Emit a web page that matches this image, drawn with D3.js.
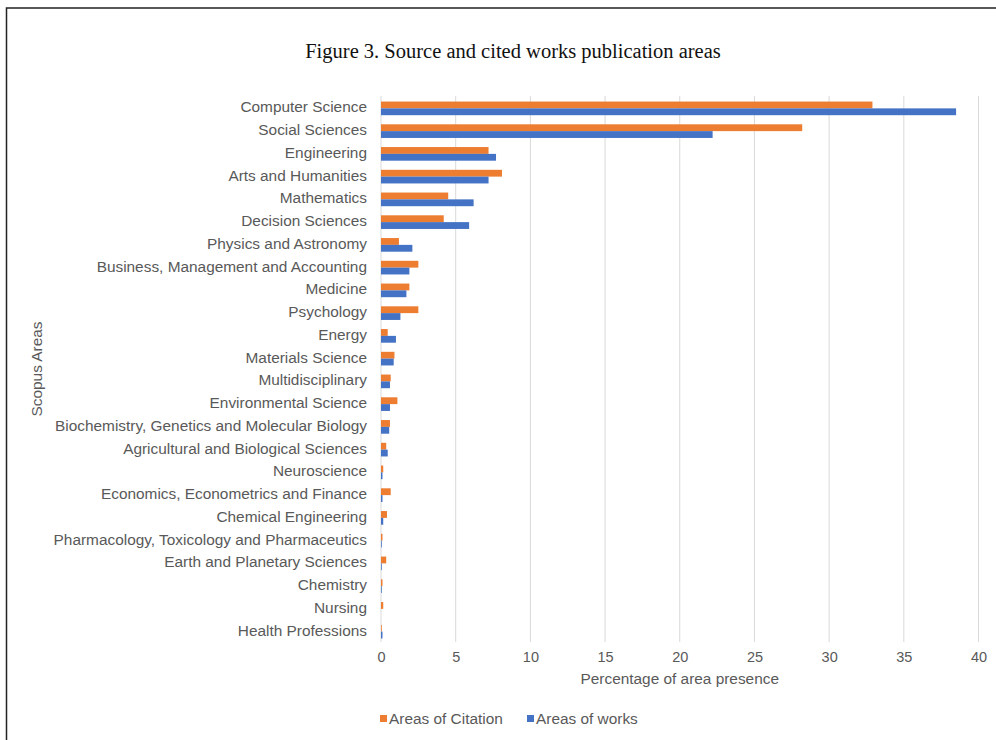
<!DOCTYPE html>
<html>
<head>
<meta charset="utf-8">
<script src="https://cdn.jsdelivr.net/npm/d3@7"></script>
<style>
  body { margin: 0; background: #fff; }
  svg { display: block; }
</style>
</head>
<body>
<div id="chart"></div>
<script>
const categories = [
  "Computer Science", "Social Sciences", "Engineering", "Arts and Humanities",
  "Mathematics", "Decision Sciences", "Physics and Astronomy",
  "Business, Management and Accounting", "Medicine", "Psychology", "Energy",
  "Materials Science", "Multidisciplinary", "Environmental Science",
  "Biochemistry, Genetics and Molecular Biology", "Agricultural and Biological Sciences",
  "Neuroscience", "Economics, Econometrics and Finance", "Chemical Engineering",
  "Pharmacology, Toxicology and Pharmaceutics", "Earth and Planetary Sciences",
  "Chemistry", "Nursing", "Health Professions"
];
const citation = [32.9, 28.2, 7.2, 8.1, 4.5, 4.2, 1.2, 2.5, 1.9, 2.5, 0.45, 0.9,
  0.65, 1.1, 0.6, 0.35, 0.15, 0.65, 0.4, 0.1, 0.35, 0.1, 0.15, 0.05];
const works = [38.5, 22.2, 7.7, 7.2, 6.2, 5.9, 2.1, 1.9, 1.7, 1.3, 1.0, 0.85,
  0.6, 0.6, 0.55, 0.45, 0.1, 0.1, 0.15, 0.05, 0.05, 0.05, 0.0, 0.1];
const seriesNames = ["Areas of Citation", "Areas of works"];
const xTicks = [0, 5, 10, 15, 20, 25, 30, 35, 40];

const width = 996, height = 740;
const margin = { top: 96, right: 18, bottom: 98, left: 381 };
const colors = { "Areas of Citation": "#ED7D31", "Areas of works": "#4472C4" };
const textColor = "#595959";
const sans = "Liberation Sans, Arial, sans-serif";

const rows = categories.map((c, i) => ({
  name: c,
  "Areas of Citation": citation[i],
  "Areas of works": works[i]
}));

const svg = d3.select("#chart").append("svg")
  .attr("width", width)
  .attr("height", height);

// frame
svg.append("path")
  .attr("d", `M6.5,${height}V8H${width}`)
  .attr("fill", "none")
  .attr("stroke", "#222")
  .attr("stroke-width", 1.5);

let x = d3.scaleLinear()
  .domain([0, 40])
  .range([margin.left, 978.5]);

let y = d3.scaleBand()
  .domain(categories)
  .range([margin.top, height - margin.bottom])
  .paddingInner(0.4)
  .paddingOuter(0.2);

let y1 = d3.scaleBand()
  .domain(seriesNames)
  .range([0, y.bandwidth()]);

// gridlines
svg.append("g")
  .attr("class", "grid")
  .selectAll("line")
  .data(xTicks)
  .join("line")
    .attr("x1", d => x(d))
    .attr("x2", d => x(d))
    .attr("y1", margin.top)
    .attr("y2", height - margin.bottom)
    .attr("stroke", "#d9d9d9")
    .attr("stroke-width", 1);

// bars
svg.append("g")
  .attr("class", "bars")
  .selectAll("g")
  .data(rows)
  .join("g")
    .attr("transform", d => `translate(0,${y(d.name) + 1})`)
  .selectAll("rect")
  .data(d => seriesNames.map(s => ({ key: s, value: d[s] })))
  .join("rect")
    .attr("x", x(0))
    .attr("y", d => y1(d.key))
    .attr("width", d => x(d.value) - x(0))
    .attr("height", y1.bandwidth())
    .attr("fill", d => colors[d.key]);

const yAxis = g => g
  .attr("transform", `translate(${margin.left},0)`)
  .call(d3.axisLeft(y).tickSize(0).tickPadding(14))
  .call(g => g.select(".domain").remove())
  .call(g => g.selectAll("text")
    .attr("fill", textColor)
    .attr("font-family", sans)
    .attr("font-size", 15.4));

const xAxis = g => g
  .attr("transform", `translate(0,${height - margin.bottom})`)
  .call(d3.axisBottom(x).tickValues(xTicks).tickSize(0).tickPadding(10))
  .call(g => g.select(".domain").remove())
  .call(g => g.selectAll("text")
    .attr("fill", textColor)
    .attr("font-family", sans)
    .attr("font-size", 14.5));

svg.append("g").attr("class", "y-axis").call(yAxis);
svg.append("g").attr("class", "x-axis").call(xAxis);

// axis titles
svg.append("text")
  .attr("x", (x(0) + x(40)) / 2)
  .attr("y", 684)
  .attr("text-anchor", "middle")
  .attr("fill", textColor)
  .attr("font-family", sans)
  .attr("font-size", 15.4)
  .text("Percentage of area presence");

svg.append("text")
  .attr("transform", `translate(42,${(y.range()[0] + y.range()[1]) / 2}) rotate(-90)`)
  .attr("text-anchor", "middle")
  .attr("fill", textColor)
  .attr("font-family", sans)
  .attr("font-size", 15.4)
  .text("Scopus Areas");

// title
svg.append("text")
  .attr("x", 513)
  .attr("y", 58)
  .attr("text-anchor", "middle")
  .attr("fill", "#111")
  .attr("font-family", "Liberation Serif, Times New Roman, serif")
  .attr("font-size", 20.5)
  .text("Figure 3. Source and cited works publication areas");

// legend
const legend = svg.append("g")
  .attr("class", "legend")
  .selectAll("g")
  .data(seriesNames)
  .join("g")
    .attr("transform", (d, i) => `translate(${[380, 527][i]},719)`);

legend.append("rect")
  .attr("x", 0)
  .attr("y", -4)
  .attr("width", 7)
  .attr("height", 7)
  .attr("fill", d => colors[d]);

legend.append("text")
  .attr("x", 9)
  .attr("y", 5)
  .attr("fill", textColor)
  .attr("font-family", sans)
  .attr("font-size", 15.4)
  .text(d => d);
</script>
</body>
</html>
